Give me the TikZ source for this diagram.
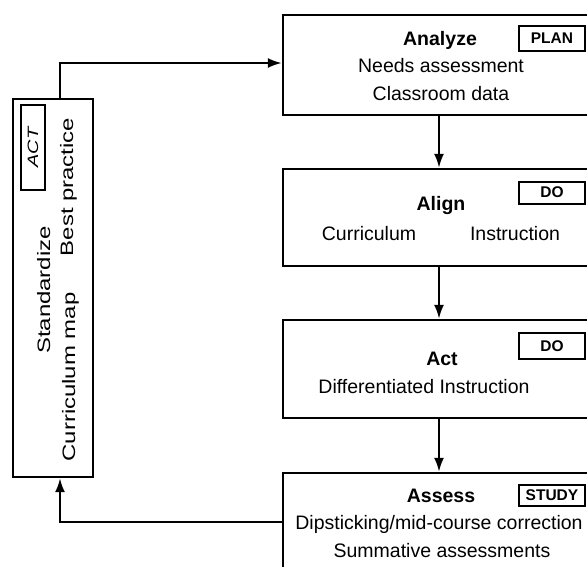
\documentclass[tikz,border=0pt]{standalone}
\usepackage{fontspec}
\setmainfont{Liberation Sans}
\usetikzlibrary{arrows.meta}
\begin{document}
\begin{tikzpicture}[x=1pt,y=-1pt,
  box/.style={draw, line width=2.3pt, inner sep=0pt},
  tag/.style={draw, line width=2pt, inner sep=0pt, font=\fontsize{15.5}{17}\selectfont\bfseries, minimum width=66pt},
  txt/.style={anchor=base, inner sep=0pt, font=\fontsize{19.5}{22}\selectfont},
  ttl/.style={anchor=base, inner sep=0pt, font=\fontsize{19.5}{22}\selectfont\bfseries},
  vtxt/.style={anchor=base, inner sep=0pt, rotate=90, xscale=1.33, font=\fontsize{18}{20}\selectfont},
  arr/.style={line width=2.2pt, -{Latex[length=14pt,width=10pt]}},
]
\useasboundingbox (0,0) rectangle (587,566);
\clip (0,0) rectangle (587,566);
% main boxes
\node[box, minimum width=312pt, minimum height=100pt] (analyze) at (439,65) {};
\node[box, minimum width=312pt, minimum height=97pt] (align) at (439,217.5) {};
\node[box, minimum width=312pt, minimum height=98pt] (act) at (439,369) {};
\node[box, minimum width=312pt, minimum height=130pt] (assess) at (439,538) {};
\node[box, minimum width=80pt, minimum height=378pt] (std) at (53,288) {};
% tags
\node[tag, minimum height=25pt] (plan) at (552,38.5) {PLAN};
\node[tag, minimum height=22pt] (do1) at (552,192.5) {DO};
\node[tag, minimum height=26pt] (do2) at (552,346) {DO};
\node[tag, minimum height=21pt] (study) at (552,495) {STUDY};
\node[draw, line width=2pt, inner sep=0pt, minimum width=24pt, minimum height=85pt] (actlbl) at (33,147.5)
  {\rotatebox{90}{\scalebox{1.33}[1]{\fontsize{15}{17}\selectfont\itshape ACT}}};
% texts
\node[ttl] (t1) at (440,45) {Analyze};
\node[txt] (t1a) at (441,72) {Needs assessment};
\node[txt] (t1b) at (441,100) {Classroom data};
\node[ttl] (t2) at (441,210) {Align};
\node[txt] (t2a) at (369,240) {Curriculum};
\node[txt] (t2b) at (515,240) {Instruction};
\node[ttl] (t3) at (442,365) {Act};
\node[txt] (t3a) at (424,393) {Differentiated Instruction};
\node[ttl] (t4) at (441,502) {Assess};
\node[txt] (t4a) at (439,529) {Dipsticking/mid-course correction};
\node[txt] (t4b) at (442,557) {Summative assessments};
\node[vtxt] (s1) at (50,290) {Standardize};
\node[vtxt] (s2) at (73,187) {Best practice};
\node[vtxt] (s3) at (75,377) {Curriculum map};
% connectors
\coordinate (c1) at (60,63);
\coordinate (c2) at (60,522);
\draw[arr] (analyze.south) -- (align.north);
\draw[arr] (align.south) -- (act.north);
\draw[arr] (act.south) -- (assess.north);
\draw[arr] (std.north -| c1) |- (analyze.west |- c1);
\draw[arr] (assess.west |- c2) -| (std.south -| c2);
\end{tikzpicture}
\end{document}
